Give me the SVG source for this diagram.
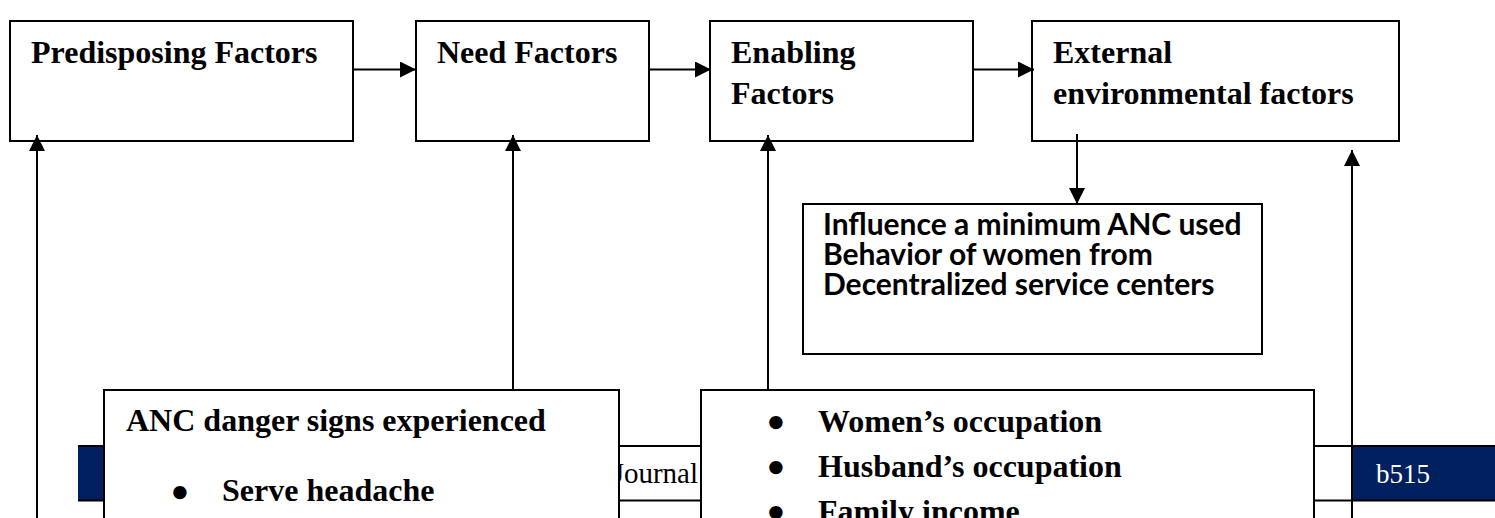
<svg xmlns="http://www.w3.org/2000/svg" width="1495" height="518" viewBox="0 0 1495 518">
<style>
.box{fill:#fff;stroke:#000;stroke-width:2}
.t{font-family:"Liberation Serif","Times New Roman",serif;font-weight:bold;font-size:32px;fill:#000}
.c{font-family:Lato,"Liberation Sans",sans-serif;font-weight:bold;font-size:30px;fill:#000}
.b{font-family:"DejaVu Sans",sans-serif;font-weight:bold;font-size:38px;fill:#000;text-anchor:middle}
.ln{stroke:#000;stroke-width:2;fill:none}
.ft{stroke:#000;stroke-width:2}
</style>
<defs>
<marker id="ah" markerUnits="userSpaceOnUse" markerWidth="16" markerHeight="16" refX="16" refY="8" orient="auto">
<path d="M0,0 L16,8 L0,16 z" fill="#000"/>
</marker>
</defs>
<rect width="1495" height="518" fill="#fff"/>
<g id="footer">
<rect x="78" y="447" width="200" height="53" fill="#002060"/>
<rect x="1352" y="447" width="143" height="53" fill="#002060"/>
<line class="ft" x1="78" y1="446" x2="1495" y2="446"/>
<line class="ft" x1="78" y1="500.5" x2="1495" y2="500.5"/>
<line class="ft" x1="1314" y1="446" x2="1314" y2="518"/>
<text x="698" y="483" text-anchor="end" style="font-family:'Liberation Serif',serif;font-size:29px;fill:#000">Journal</text>
<text x="1376" y="483" style="font-family:'Liberation Serif',serif;font-size:27px;fill:#fff">b515</text>
</g>
<g id="predisposing">
<rect class="box" x="10" y="21" width="343" height="120"/>
<text class="t" x="31" y="63">Predisposing Factors</text>
</g>
<g id="need">
<rect class="box" x="416" y="21" width="233" height="120"/>
<text class="t" x="437" y="63">Need Factors</text>
</g>
<g id="enabling">
<rect class="box" x="710" y="21" width="263" height="120"/>
<text class="t" x="731" y="63">Enabling</text>
<text class="t" x="731" y="104">Factors</text>
</g>
<g id="external">
<rect class="box" x="1032" y="21" width="367" height="120"/>
<text class="t" x="1053" y="63">External</text>
<text class="t" x="1053" y="104">environmental factors</text>
</g>
<g id="connectors">
<line class="ln" x1="353" y1="69.5" x2="416" y2="69.5" marker-end="url(#ah)"/>
<line class="ln" x1="649" y1="69.5" x2="711" y2="69.5" marker-end="url(#ah)"/>
<line class="ln" x1="973" y1="69.5" x2="1034" y2="69.5" marker-end="url(#ah)"/>
<line class="ln" x1="1077" y1="134" x2="1077" y2="204" marker-end="url(#ah)"/>
<line class="ln" x1="37" y1="518" x2="37" y2="135" marker-end="url(#ah)"/>
<line class="ln" x1="513" y1="390" x2="513" y2="135" marker-end="url(#ah)"/>
<line class="ln" x1="768" y1="390" x2="768" y2="135" marker-end="url(#ah)"/>
<line class="ln" x1="1352" y1="518" x2="1352" y2="150" marker-end="url(#ah)"/>
</g>
<g id="influence">
<rect class="box" x="803" y="204" width="459" height="150"/>
<text class="c" x="823" y="235">Influence a minimum ANC used</text>
<text class="c" x="823" y="265">Behavior of women from</text>
<text class="c" x="823" y="295">Decentralized service centers</text>
</g>
<g id="danger-signs">
<rect class="box" x="104" y="390" width="515" height="140"/>
<text class="t" x="126" y="431">ANC danger signs experienced</text>
<text class="b" x="180" y="507">•</text>
<text class="t" x="222" y="501">Serve headache</text>
</g>
<g id="enabling-items">
<rect class="box" x="701" y="390" width="613" height="140"/>
<text class="b" x="776" y="437">•</text>
<text class="t" x="818" y="432">Women’s occupation</text>
<text class="b" x="776" y="482">•</text>
<text class="t" x="818" y="477">Husband’s occupation</text>
<text class="b" x="776" y="527">•</text>
<text class="t" x="818" y="522">Family income</text>
</g>
</svg>
